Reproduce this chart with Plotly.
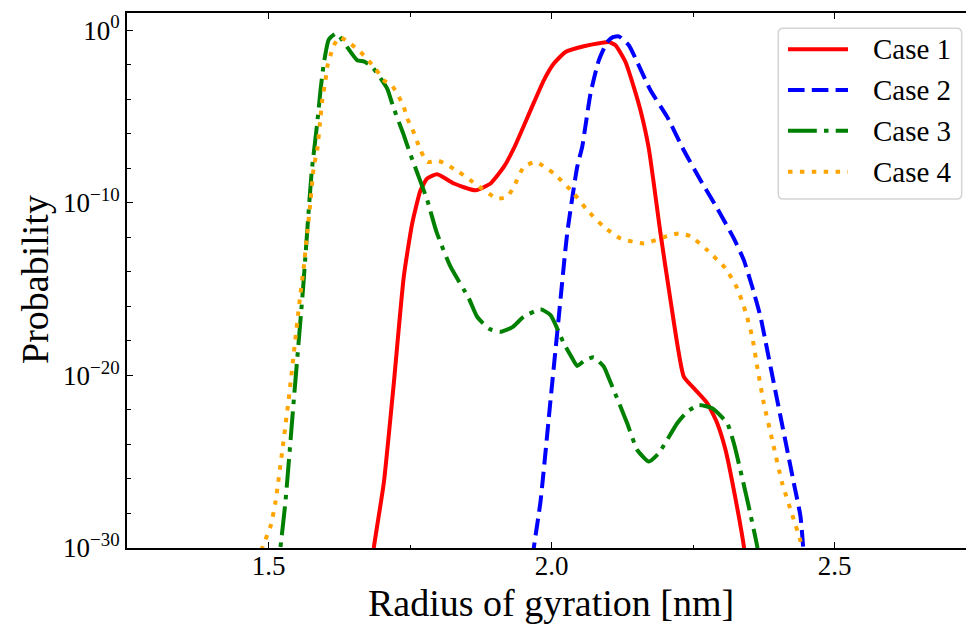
import numpy as np
import plotly.graph_objects as go

# ---- data: radius of gyration [nm] and log10(probability) per case ----
case1_rg = [1.680, 1.686, 1.7037, 1.7214, 1.739, 1.7539, 1.7686, 1.7804, 1.798, 1.8274,
            1.8657, 1.8922, 1.9157, 1.9334, 1.9629, 1.9864, 2.0041, 2.0247, 2.0571, 2.0866,
            2.1012, 2.1131, 2.1307, 2.1454, 2.1572, 2.1719, 2.1926, 2.2102, 2.2337, 2.2514,
            2.2751, 2.2928, 2.3074, 2.3221, 2.3398, 2.345]
case1_log10p = [-32, -30, -26.24, -20.45, -14.28, -11.19, -9.27, -8.59, -8.34, -8.88,
                -9.27, -8.88, -7.92, -6.85, -4.64, -2.9, -1.93, -1.26, -0.93, -0.74,
                -0.68, -0.87, -1.84, -3.29, -4.64, -6.85, -11.77, -15.63, -20.07, -20.74,
                -21.61, -22.77, -24.31, -26.63, -29.9, -31.5]

case2_rg = [1.962, 1.9687, 1.9806, 1.9983, 2.0129, 2.0277, 2.0454, 2.0542, 2.0689, 2.0836,
            2.0984, 2.1085, 2.1189, 2.1366, 2.1514, 2.1749, 2.2044, 2.2337, 2.2633, 2.2928,
            2.3221, 2.3398, 2.3546, 2.3693, 2.3811, 2.3928, 2.4046, 2.4164, 2.4281, 2.4399,
            2.447]
case2_log10p = [-32, -30, -27.3, -21.42, -16.6, -11.77, -7.92, -6.76, -3.67, -1.74,
                -0.68, -0.4, -0.35, -0.87, -1.84, -3.48, -5.02, -6.95, -8.69, -10.32,
                -12.06, -13.32, -14.86, -16.6, -18.52, -20.45, -22.38, -24.31, -26.24, -28.17,
                -31]

case3_rg = [1.515, 1.521, 1.530, 1.545, 1.5613, 1.576, 1.586, 1.5919, 1.5977, 1.6065,
            1.618, 1.6224, 1.6567, 1.6684, 1.6832, 1.7097, 1.7203, 1.738, 1.7497, 1.7804,
            1.7968, 1.8216, 1.8539, 1.8686, 1.8900, 1.9099, 1.931, 1.951, 1.9806, 1.9983,
            2.0217, 2.0366, 2.0454, 2.0600, 2.0748, 2.0924, 2.1013, 2.1337, 2.1514, 2.1719,
            2.1896, 2.2221, 2.2398, 2.2602, 2.2839, 2.3104, 2.3221, 2.3458, 2.3634, 2.368]
case3_log10p = [-32, -30, -27.3, -21.3, -14.86, -8.3, -5.4, -3.48, -1.93, -0.54,
                -0.2, -0.24, -1.74, -1.8, -2.13, -3.38, -4.44, -5.98, -7.1, -9.84,
                -11.68, -13.7, -15.53, -16.6, -17.3, -17.47, -17.2, -16.6, -16.17, -16.5,
                -18.14, -19.0, -19.45, -19.1, -18.95, -19.49, -20.16, -22.77, -24.31, -24.99,
                -24.5, -22.77, -22.1, -21.71, -21.9, -22.77, -23.92, -27.2, -29.9, -31]

case4_rg = [1.480, 1.489, 1.5035, 1.512, 1.5345, 1.5565, 1.5624, 1.5684, 1.5742, 1.58,
            1.586, 1.5919, 1.5949, 1.6007, 1.6037, 1.6095, 1.6154, 1.626, 1.6449, 1.6625,
            1.689, 1.7037, 1.7185, 1.7303, 1.739, 1.7449, 1.7539, 1.7686, 1.7804, 1.8009,
            1.8362, 1.8687, 1.904, 1.9217, 1.9334, 1.951, 1.9717, 2.0041, 2.0394, 2.0631,
            2.0924, 2.1219, 2.1631, 2.2044, 2.2249, 2.2456, 2.2751, 2.3074, 2.3281, 2.3428,
            2.3546, 2.3634, 2.3751, 2.3899, 2.4076, 2.4281, 2.4399, 2.447]
case4_log10p = [-31.5, -30, -28.75, -27.4, -21.7, -15.24, -13.7, -11.77, -9.9, -7.92,
                -6.95, -5.02, -4.06, -2.9, -2.13, -1.45, -0.87, -0.4, -0.78, -1.26,
                -2.22, -2.9, -3.22, -3.86, -4.44, -5.1, -5.7, -6.95, -7.63, -7.57,
                -8.2, -8.98, -9.75, -9.65, -9.07, -7.92, -7.63, -8.3, -9.46, -10.42,
                -11.39, -12.06, -12.35, -11.93, -11.77, -11.93, -12.74, -13.8, -14.95, -16.31,
                -17.75, -19.49, -21.61, -23.73, -26.24, -28.36, -29.6, -31]

case_names = ["Case 1", "Case 2", "Case 3", "Case 4"]
case_colors = ["red", "blue", "green", "orange"]
case_dashes = ["solid", "16.6px,7.2px", "28.8px,7.2px,4.5px,7.2px", "4.5px,7.4px"]

x_ticks = [1.5, 2.0, 2.5]
x_minor_ticks = [1.25, 1.75, 2.25]
y_ticks = [1e-30, 1e-20, 1e-10, 1e0]
y_tick_text = ["10<sup>\u221230</sup>", "10<sup>\u221220</sup>", "10<sup>\u221210</sup>", "10<sup>0</sup>"]
y_minor_ticks = [10.0 ** e for e in range(-28, 0, 2) if e % 10 != 0]

FONT = "Liberation Serif, DejaVu Serif, serif"
W, H = 966, 628
ML, MR, MT, MB = 127, 0, 13, 80
PX_PER_NM = 566.0
X0 = 1.25
X1 = X0 + (W - ML - MR) / PX_PER_NM

series = [
    (case1_rg, case1_log10p),
    (case2_rg, case2_log10p),
    (case3_rg, case3_log10p),
    (case4_rg, case4_log10p),
]

fig = go.Figure()
for (rg, lp), name, color, dash in zip(series, case_names, case_colors, case_dashes):
    fig.add_trace(go.Scatter(
        x=rg, y=np.power(10.0, np.array(lp)), mode="lines", name=name,
        line=dict(color=color, width=4, dash=dash, shape="spline", smoothing=0.5),
        showlegend=False,
    ))

axis_common = dict(
    showline=True, linecolor="black", linewidth=2, mirror=False,
    showgrid=False, zeroline=False,
    ticks="inside", ticklen=6, tickwidth=1, tickcolor="black",
)
minor_common = dict(tickmode="array", ticks="inside", ticklen=3.5, tickwidth=1,
                    tickcolor="black")

fig.update_layout(
    width=W, height=H,
    margin=dict(l=ML, r=MR, t=MT, b=MB, pad=0),
    paper_bgcolor="white", plot_bgcolor="white",
    font=dict(family=FONT, color="black"),
    xaxis=dict(
        range=[X0, X1], tickmode="array", tickvals=x_ticks,
        ticktext=[f"{v:.1f}" for v in x_ticks],
        tickfont=dict(family=FONT, size=27, color="black"),
        ticklabelstandoff=-7,
        minor=dict(tickvals=x_minor_ticks, **minor_common),
        **axis_common,
    ),
    xaxis2=dict(
        range=[X0, X1], overlaying="x", side="top", anchor="y", matches="x",
        tickmode="array", tickvals=x_ticks, showticklabels=False,
        minor=dict(tickvals=x_minor_ticks, **minor_common),
        **axis_common,
    ),
    yaxis=dict(
        type="log", range=[-30, 1], tickmode="array", tickvals=y_ticks,
        ticktext=y_tick_text,
        tickfont=dict(family=FONT, size=27, color="black"),
        minor=dict(tickvals=y_minor_ticks, **minor_common),
        **axis_common,
    ),
    showlegend=False,
)

# invisible anchor trace so the top axis is laid out
fig.add_trace(go.Scatter(x=[X0], y=[1e-40], xaxis="x2", mode="markers",
                         marker=dict(opacity=0), showlegend=False, hoverinfo="skip"))

plot_w = W - ML - MR
plot_h = H - MT - MB


def px_x(px):
    return (px - ML) / plot_w


def px_y(py):
    return (H - MB - py) / plot_h


# axis titles
fig.add_annotation(text="Radius of gyration [nm]", xref="paper", yref="paper",
                   x=px_x(550.5), y=px_y(603), xanchor="center", yanchor="middle",
                   showarrow=False, font=dict(family=FONT, size=38, color="black"))
fig.add_annotation(text="Probability", xref="paper", yref="paper", textangle=-90,
                   x=px_x(35), y=px_y(280), xanchor="center", yanchor="middle",
                   showarrow=False, font=dict(family=FONT, size=38, color="black"))

# legend frame with rounded corners
bx0, bx1, by0, by1, r = 778.3, 961.7, 28.3, 199.0, 5.0
rx, ry = r / plot_w, r / plot_h
X_0, X_1 = px_x(bx0), px_x(bx1)
Y_T, Y_B = px_y(by0), px_y(by1)
path = (f"M {X_0 + rx},{Y_T} L {X_1 - rx},{Y_T} Q {X_1},{Y_T} {X_1},{Y_T - ry} "
        f"L {X_1},{Y_B + ry} Q {X_1},{Y_B} {X_1 - rx},{Y_B} "
        f"L {X_0 + rx},{Y_B} Q {X_0},{Y_B} {X_0},{Y_B + ry} "
        f"L {X_0},{Y_T - ry} Q {X_0},{Y_T} {X_0 + rx},{Y_T} Z")
fig.add_shape(type="path", path=path, xref="paper", yref="paper",
              fillcolor="rgba(255,255,255,0.85)", line=dict(color="#d4d4d4", width=1.5),
              layer="above")

row_y = [49.3, 90.0, 130.7, 171.7]
for name, color, dash, ry_px in zip(case_names, case_colors, case_dashes, row_y):
    fig.add_shape(type="line", xref="paper", yref="paper",
                  x0=px_x(788), x1=px_x(848), y0=px_y(ry_px), y1=px_y(ry_px),
                  line=dict(color=color, width=4, dash=dash), layer="above")
    fig.add_annotation(text=name, xref="paper", yref="paper",
                       x=px_x(870.5), y=px_y(ry_px), xanchor="left", yanchor="middle",
                       showarrow=False, font=dict(family=FONT, size=29, color="black"))

fig.write_html("out.html")
